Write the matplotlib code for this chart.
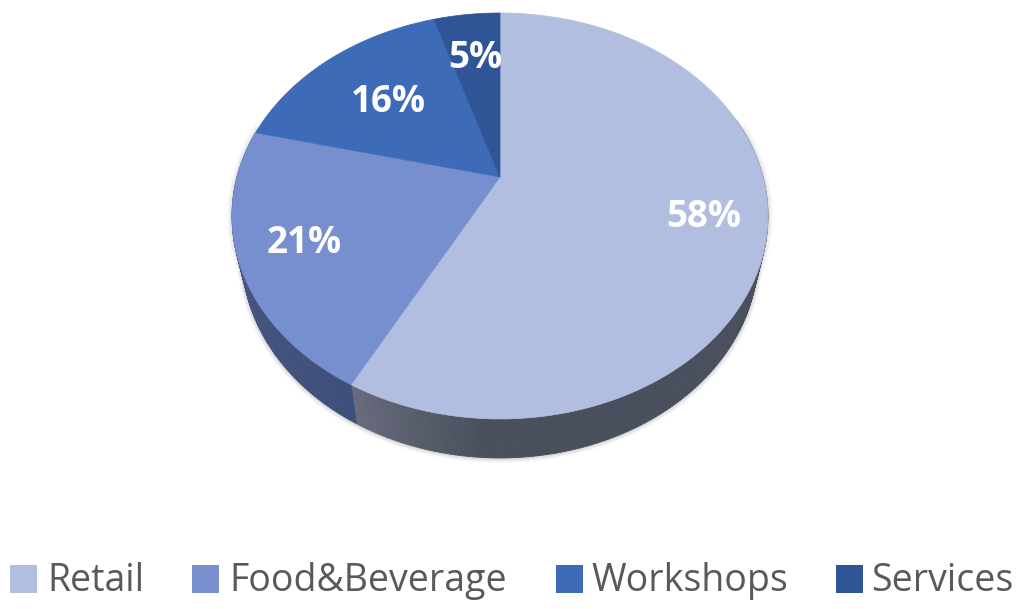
import numpy as np
import matplotlib
matplotlib.use("Agg")
import matplotlib.pyplot as plt
from matplotlib.patches import Rectangle

# Data
categories = ["Retail", "Food&Beverage", "Workshops", "Services"]
shares = [57.8, 21.0, 16.4, 4.8]
face_colors = ["#B2BEE0", "#778FCF", "#3E6BB8", "#2F5597"]

plt.rcParams["font.family"] = ["Open Sans", "DejaVu Sans"]

# Perspective of the tilted disc, in pixels of the picture
CX, CY = 500, 177
A, B, K = 263, 195.5, 0.192
DEPTH, SHRINK = 39, 0.963


def project(theta):
    # theta runs clockwise from 12 o'clock
    x, y = np.sin(theta), np.cos(theta)
    w = 1 + K * y
    return A * x / w, -B * y / w


def top_rim(theta):
    px, py = project(theta)
    return CX + px, CY + py


def low_rim(theta):
    px, py = project(theta)
    return CX + SHRINK * px, CY + py + DEPTH


fig = plt.figure(figsize=(10.23, 6.09), dpi=100)
ax = fig.add_axes([0, 0, 1, 1])
ax.set_xlim(0, 1023)
ax.set_ylim(609, 0)
ax.axis("off")

fractions = np.array(shares) / sum(shares)
edges = np.concatenate([[0], np.cumsum(fractions)]) * 2 * np.pi

# Soft shadow round the lower rim
front = np.linspace(np.pi * 0.42, np.pi * 1.58, 300)
for lw, alpha in [(7, 0.05), (5, 0.07), (3, 0.10)]:
    ax.plot(*low_rim(front), color="#606060", lw=lw, alpha=alpha, zorder=1)
    ax.plot(*top_rim(front), color="#606060", lw=lw, alpha=alpha * 0.7, zorder=1)

# Side wall, shaded by strips
retail_lo = np.array([104, 108, 126]) / 255
retail_hi = np.array([73, 79, 92]) / 255
food_lo = np.array([72, 88, 130]) / 255
food_hi = np.array([62, 78, 122]) / 255
for i in range(2):
    start = max(edges[i], np.pi * 0.4)
    angles = np.linspace(start, edges[i + 1], 160)
    for a0, a1 in zip(angles[:-1], angles[1:]):
        x0, y0 = top_rim(np.array([a0, a1]))
        x1, y1 = low_rim(np.array([a1, a0]))
        if i == 0:
            t = np.clip((edges[1] - a0) / np.radians(26), 0, 1)
            col = retail_lo * (1 - t) + retail_hi * t
        else:
            t = np.clip((a0 - edges[1]) / np.radians(50), 0, 1)
            col = food_hi * (1 - t) + food_lo * t
        ax.fill(np.r_[x0, x1], np.r_[y0, y1], color=col, lw=0.6, zorder=2)

# Top face
for i, share in enumerate(shares):
    arc = np.linspace(edges[i], edges[i + 1], 200)
    rx, ry = top_rim(arc)
    ax.fill(np.r_[CX, rx], np.r_[CY, ry], color=face_colors[i], lw=0.5, zorder=3)

# Data labels
label_x = [704, 304, 388, 475]
label_y = [217, 243, 102, 58]
for i, share in enumerate(shares):
    ax.text(label_x[i], label_y[i], f"{share:.0f}%", color="white", fontsize=26.5,
            fontweight="bold", ha="center", va="center", zorder=4)

# Legend
swatch_x = [10, 192, 556, 836]
text_x = [47, 229, 591, 871]
for i, name in enumerate(categories):
    ax.add_patch(Rectangle((swatch_x[i], 565), 27, 28, color=face_colors[i], lw=0, zorder=4))
    ax.text(text_x[i], 581, name, color="#595959", fontsize=27, ha="left", va="center", zorder=4)

plt.savefig("out.png", dpi=100)
plt.close()
